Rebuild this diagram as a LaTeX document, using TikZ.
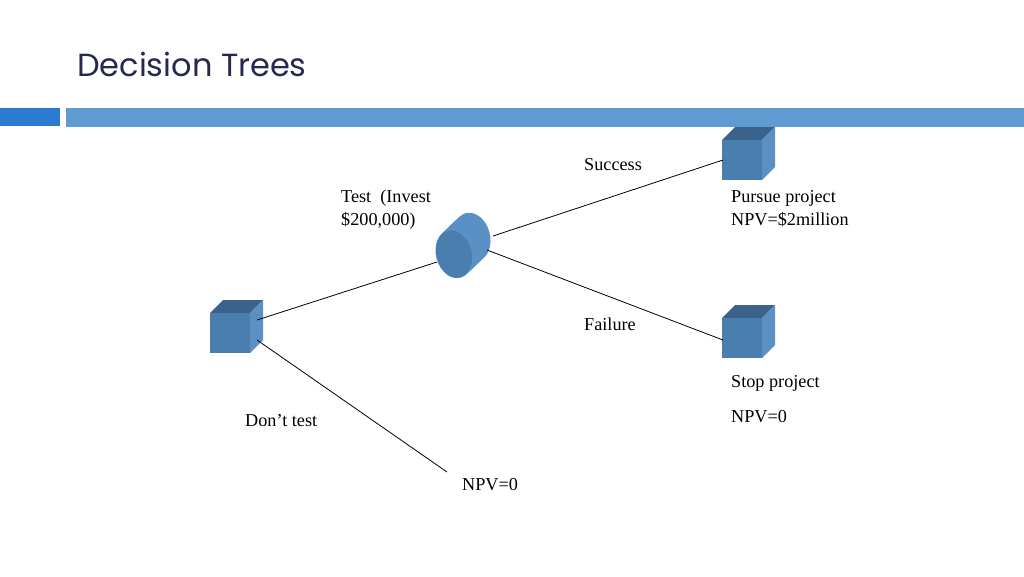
\documentclass[tikz,border=0pt]{standalone}
\usetikzlibrary{calc}
\usepackage{fontspec}
\setmainfont{Liberation Serif}
\newfontfamily\titlefont{Poppins}
\definecolor{titlec}{HTML}{262850}
\definecolor{barA}{HTML}{2A7BD0}
\definecolor{barB}{HTML}{5F9BD0}
\definecolor{front}{HTML}{4A7EAE}
\definecolor{topc}{HTML}{3A628A}
\definecolor{side}{HTML}{5A90C4}
\tikzset{
  lbl/.style={anchor=north west,inner sep=0pt,font=\fontsize{18.2}{23}\selectfont,align=left},
  conn/.style={black,line width=0.8pt},
  pics/cube/.style={code={
    \fill[topc] (0,0) -- (13,-13) -- (53,-13) -- (40,0) -- cycle;
    \fill[side] (40,0) -- (53,-13) -- (53,27) -- (40,40) -- cycle;
    \fill[front] (0,0) rectangle (40,40);
  }}
}
\begin{document}
\begin{tikzpicture}[x=1pt,y=-1pt]
\useasboundingbox (0,0) rectangle (1024,576);
\node[anchor=west,inner sep=0pt,text=titlec,font=\titlefont\fontsize{32}{38}\selectfont] (title) at (77,64) {Decision Trees};
\fill[barA] (0,108) rectangle (60,126);
\fill[barB] (66,108) rectangle (1024,127);
% cubes
\pic at (210,313) {cube};
\pic at (722,140) {cube};
\pic at (722,318) {cube};
\coordinate (c1a) at (257,320);
\coordinate (c1b) at (257,340);
\coordinate (c2) at (723,160);
\coordinate (c3) at (723,340);
% cylinder
\foreach \t in {0,0.05,...,1.0}
  \fill[side] ($(454,254)!\t!(473,236)$) ellipse[x radius=18,y radius=24.5,rotate=15];
\fill[front] (454,254) ellipse[x radius=17.5,y radius=24,rotate=15];
\coordinate (cyA) at (437,262);
\coordinate (cyB) at (493,236);
\coordinate (cyC) at (487,250);
\coordinate (end) at (447,472);
\draw[conn] (c1a) -- (cyA);
\draw[conn] (cyB) -- (c2);
\draw[conn] (cyC) -- (c3);
\draw[conn] (c1b) -- (end);
% labels
\node[lbl] (succ) at (584,158) {Success};
\node[lbl] (fail) at (584,318) {Failure};
\node[lbl] (test) at (341,190) {Test\ \ (Invest\\\$200,000)};
\node[lbl] (pur) at (731,190) {Pursue project\\NPV=\$2million};
\node[lbl] (stop) at (731,375) {Stop project};
\node[lbl] (npv3) at (731,410) {NPV=0};
\node[lbl] (dont) at (245,414) {Don’t test};
\node[lbl] (npv1) at (462,478) {NPV=0};
\end{tikzpicture}
\end{document}
